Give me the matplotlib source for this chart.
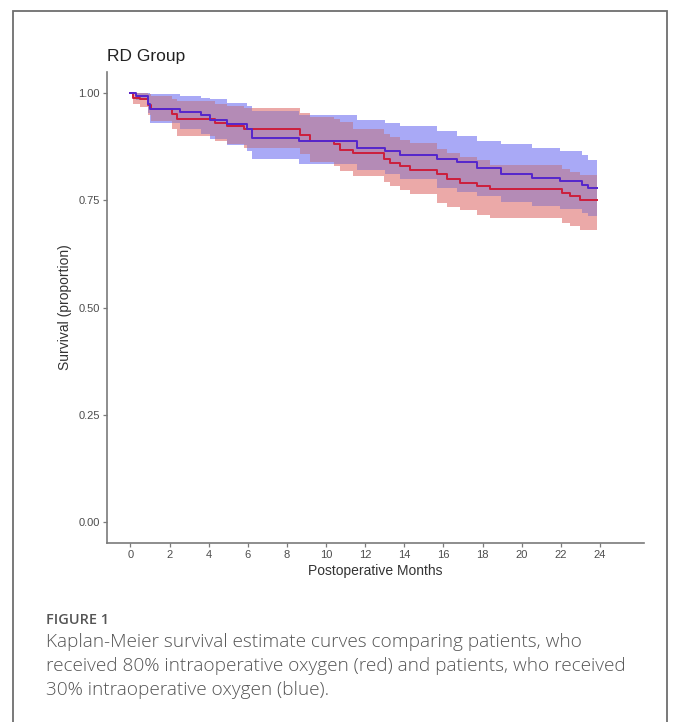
import numpy as np
import matplotlib
matplotlib.use("Agg")
import matplotlib.pyplot as plt
from matplotlib.patches import Rectangle

# ---------------- data ----------------
months_30 = [0, 0.3, 0.9, 1.0, 2.55, 3.58, 4.09, 4.94, 5.96, 6.2, 8.6, 11.6, 13.0,
             13.8, 15.66, 16.68, 17.71, 18.95, 20.5, 21.96, 23.07, 23.41, 23.85]
surv_30 = [1.0, 0.994, 0.976, 0.964, 0.956, 0.949, 0.939, 0.928, 0.916, 0.897, 0.889,
           0.873, 0.865, 0.857, 0.847, 0.840, 0.826, 0.811, 0.803, 0.795, 0.787, 0.779, 0.779]
upper_30 = [1.0, 1.0, 1.0, 0.998, 0.994, 0.990, 0.986, 0.978, 0.970, 0.958, 0.950,
            0.939, 0.932, 0.924, 0.912, 0.900, 0.890, 0.881, 0.873, 0.865, 0.857, 0.845, 0.845]
lower_30 = [1.0, 0.985, 0.955, 0.931, 0.916, 0.905, 0.893, 0.880, 0.866, 0.846, 0.835,
            0.822, 0.811, 0.799, 0.778, 0.770, 0.760, 0.746, 0.738, 0.730, 0.721, 0.713, 0.713]

months_80 = [0, 0.15, 0.5, 0.9, 1.05, 2.13, 2.4, 4.3, 4.94, 5.8, 8.68, 9.19, 10.4, 10.7,
             11.4, 12.94, 13.28, 13.79, 14.3, 15.66, 16.17, 16.85, 17.71, 18.39, 22.04,
             22.47, 22.98, 23.85]
surv_80 = [1.0, 0.990, 0.986, 0.974, 0.963, 0.951, 0.941, 0.931, 0.925, 0.916, 0.904,
           0.889, 0.881, 0.869, 0.861, 0.846, 0.838, 0.830, 0.822, 0.811, 0.799, 0.791,
           0.783, 0.777, 0.768, 0.760, 0.752, 0.752]
upper_80 = [1.0, 1.0, 1.0, 0.998, 0.994, 0.988, 0.982, 0.975, 0.970, 0.965, 0.955,
            0.945, 0.940, 0.933, 0.918, 0.905, 0.899, 0.891, 0.884, 0.870, 0.860, 0.852,
            0.845, 0.832, 0.823, 0.817, 0.810, 0.810]
lower_80 = [1.0, 0.975, 0.968, 0.950, 0.935, 0.918, 0.901, 0.890, 0.882, 0.872, 0.858,
            0.840, 0.830, 0.818, 0.808, 0.792, 0.783, 0.775, 0.766, 0.745, 0.735, 0.727,
            0.717, 0.708, 0.698, 0.690, 0.680, 0.680]

x_ticks = list(range(0, 25, 2))
y_ticks = [0.0, 0.25, 0.50, 0.75, 1.00]
y_tick_labels = ["0.00", "0.25", "0.50", "0.75", "1.00"]

title = "RD Group"
x_label = "Postoperative Months"
y_label = "Survival (proportion)"
fig_label = "FIGURE 1"
caption_lines = [
    "Kaplan-Meier survival estimate curves comparing patients, who",
    "received 80% intraoperative oxygen (red) and patients, who received",
    "30% intraoperative oxygen (blue).",
]

# ---------------- style ----------------
W, H = 680, 722
blue_line = "#5526cc"
red_line = "#cc1f3c"
blue_fill = "#a9a9f6"
red_fill = "#eba9a8"
overlap_fill = "#b48bb6"
axis_col = "#7a7a7a"
tick_txt = "#4d4d4d"
cap_col = "#555555"
chart_font = ["Liberation Sans", "DejaVu Sans"]
cap_font = ["Open Sans", "DejaVu Sans"]

fig = plt.figure(figsize=(W / 100, H / 100), dpi=100)
fig.patch.set_facecolor("white")

# outer frame (open at the bottom of the visible area)
fig.patches.append(Rectangle((13 / W, -0.05), (667 - 13) / W, 1.05 - 11 / H,
                             transform=fig.transFigure, fill=False,
                             edgecolor="#6e6e6e", linewidth=1.3))

ax_l, ax_r, ax_t, ax_b = 107, 644, 72, 543
ax = fig.add_axes([ax_l / W, 1 - ax_b / H, (ax_r - ax_l) / W, (ax_b - ax_t) / H])
ax.set_xlim(-1.2, 26.25)
ax.set_ylim(-0.05, 1.05)


def step_eval(t, v, grid):
    idx = np.searchsorted(np.asarray(t), grid, side="right") - 1
    return np.asarray(v)[np.clip(idx, 0, len(v) - 1)]


# bands
ax.fill_between(months_30, lower_30, upper_30, step="post", color=blue_fill, lw=0, zorder=1)
ax.fill_between(months_80, lower_80, upper_80, step="post", color=red_fill, lw=0, zorder=1)
grid = np.union1d(months_30, months_80)
lo = np.maximum(step_eval(months_30, lower_30, grid), step_eval(months_80, lower_80, grid))
hi = np.minimum(step_eval(months_30, upper_30, grid), step_eval(months_80, upper_80, grid))
ax.fill_between(grid, lo, hi, where=hi > lo, step="post", color=overlap_fill, lw=0,
                zorder=2, interpolate=False)

# curves
ax.step(months_80, surv_80, where="post", color=red_line, lw=1.4, zorder=3)
ax.step(months_30, surv_30, where="post", color=blue_line, lw=1.4, zorder=4)

# axes styling
for s in ("top", "right"):
    ax.spines[s].set_visible(False)
for s in ("left", "bottom"):
    ax.spines[s].set_color(axis_col)
    ax.spines[s].set_linewidth(1.2)
ax.set_xticks(x_ticks)
ax.set_xticklabels([str(v) for v in x_ticks], fontfamily=chart_font, fontsize=8, color=tick_txt)
ax.set_yticks(y_ticks)
ax.set_yticklabels(y_tick_labels, fontfamily=chart_font, fontsize=8, color=tick_txt)
ax.tick_params(axis="both", length=3, width=0.9, color=axis_col, pad=2)

fig.text(ax_l / W, 1 - 57 / H, title, ha="left", va="center", fontsize=12.5,
         color="#222222", family=chart_font)
fig.text((ax_l + ax_r) / 2 / W, 1 - 571 / H, x_label, ha="center", va="center",
         fontsize=10, color="#333333", family=chart_font)
fig.text(65 / W, 1 - 307 / H, y_label, ha="center", va="center", rotation=90,
         fontsize=10, color="#333333", family=chart_font)

# caption
fl = fig.text(46 / W, 1 - 620 / H, fig_label, ha="left", va="center", fontsize=10,
              color=cap_col, family=cap_font, weight="semibold")
caps = []
for i, line in enumerate(caption_lines):
    caps.append(fig.text(46 / W, 1 - (642 + 24 * i) / H, line, ha="left", va="center",
                         fontsize=12, color=cap_col, family=cap_font, weight="light"))

renderer = fig.canvas.get_renderer()
w = caps[1].get_window_extent(renderer).width
size = 12 * (625 - 46) / w
for c in caps:
    c.set_fontsize(size)
wf = fl.get_window_extent(renderer).width
fl.set_fontsize(10 * 63 / wf)

fig.savefig("out.png", dpi=100, facecolor="white")
